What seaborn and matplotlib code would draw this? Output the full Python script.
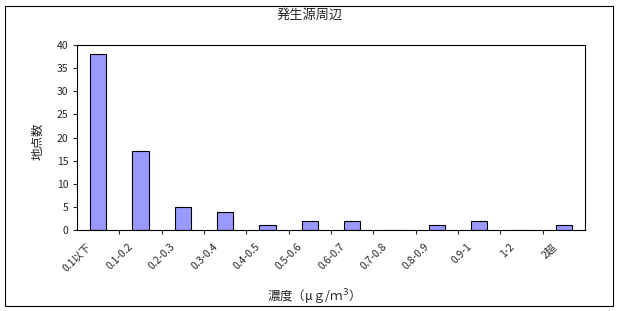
import matplotlib
matplotlib.use("Agg")
import matplotlib.pyplot as plt
import matplotlib.transforms as mtransforms
import seaborn as sns
import pandas as pd
from matplotlib.patches import Rectangle

categories = ["0.1以下", "0.1-0.2", "0.2-0.3", "0.3-0.4", "0.4-0.5", "0.5-0.6",
              "0.6-0.7", "0.7-0.8", "0.8-0.9", "0.9-1", "1-2", "2超"]
counts = [38, 17, 5, 4, 1, 2, 2, 0, 1, 2, 0, 1]
yticks = [0, 5, 10, 15, 20, 25, 30, 35, 40]

sns.set_style("white")
plt.rcParams['font.family'] = ['Noto Sans CJK JP', 'DejaVu Sans']

df = pd.DataFrame({"cat": categories, "n": counts})

fig = plt.figure(figsize=(6.2, 3.11), dpi=100)
ax = fig.add_axes([77/620, 1-230/311, (585-77)/620, (230-45)/311])
sns.barplot(data=df, x="cat", y="n", color="#9999FF", edgecolor="black",
            linewidth=0.8, width=0.38, saturation=1, ax=ax)
ax.set_xlim(-0.5, len(categories)-0.5)
ax.set_ylim(0, 40)
ax.set_yticks(yticks)
ax.set_yticklabels([str(v) for v in yticks], fontsize=7.5)
ax.set_xticks(range(len(categories)))
ax.set_xticklabels(categories, rotation=45, ha="right", va="center",
                   rotation_mode="anchor", fontsize=7.5)
ax.tick_params(axis="x", length=0, pad=11)
offset = mtransforms.ScaledTranslation(-0.09, 0, fig.dpi_scale_trans)
for lbl in ax.get_xticklabels():
    lbl.set_transform(lbl.get_transform() + offset)
ax.set_xticks([i + 0.5 for i in range(len(categories)-1)], minor=True)
ax.tick_params(axis="x", which="minor", length=3, direction="out", bottom=True, width=0.8)
ax.tick_params(axis="y", length=3, direction="out", left=True, width=0.8, pad=3)
for s in ax.spines.values():
    s.set_color("black")
    s.set_linewidth(0.8)
ax.set_xlabel("")
ax.set_ylabel("")
fig.text(311/620, 1-297/311, "濃度（μｇ/ｍ$^3$）", ha="center", va="center", fontsize=9)
fig.text(38/620, 1-141/311, "地点数", ha="center", va="center", rotation=90, fontsize=9)
fig.text(310/620, 1-15/311, "発生源周辺", ha="center", va="center", fontsize=9.5)
fig.patches.append(Rectangle((5/620, 5/311), 608/620, 300/311, transform=fig.transFigure,
                             fill=False, edgecolor="black", linewidth=0.8))
fig.savefig("out.png", dpi=100)
